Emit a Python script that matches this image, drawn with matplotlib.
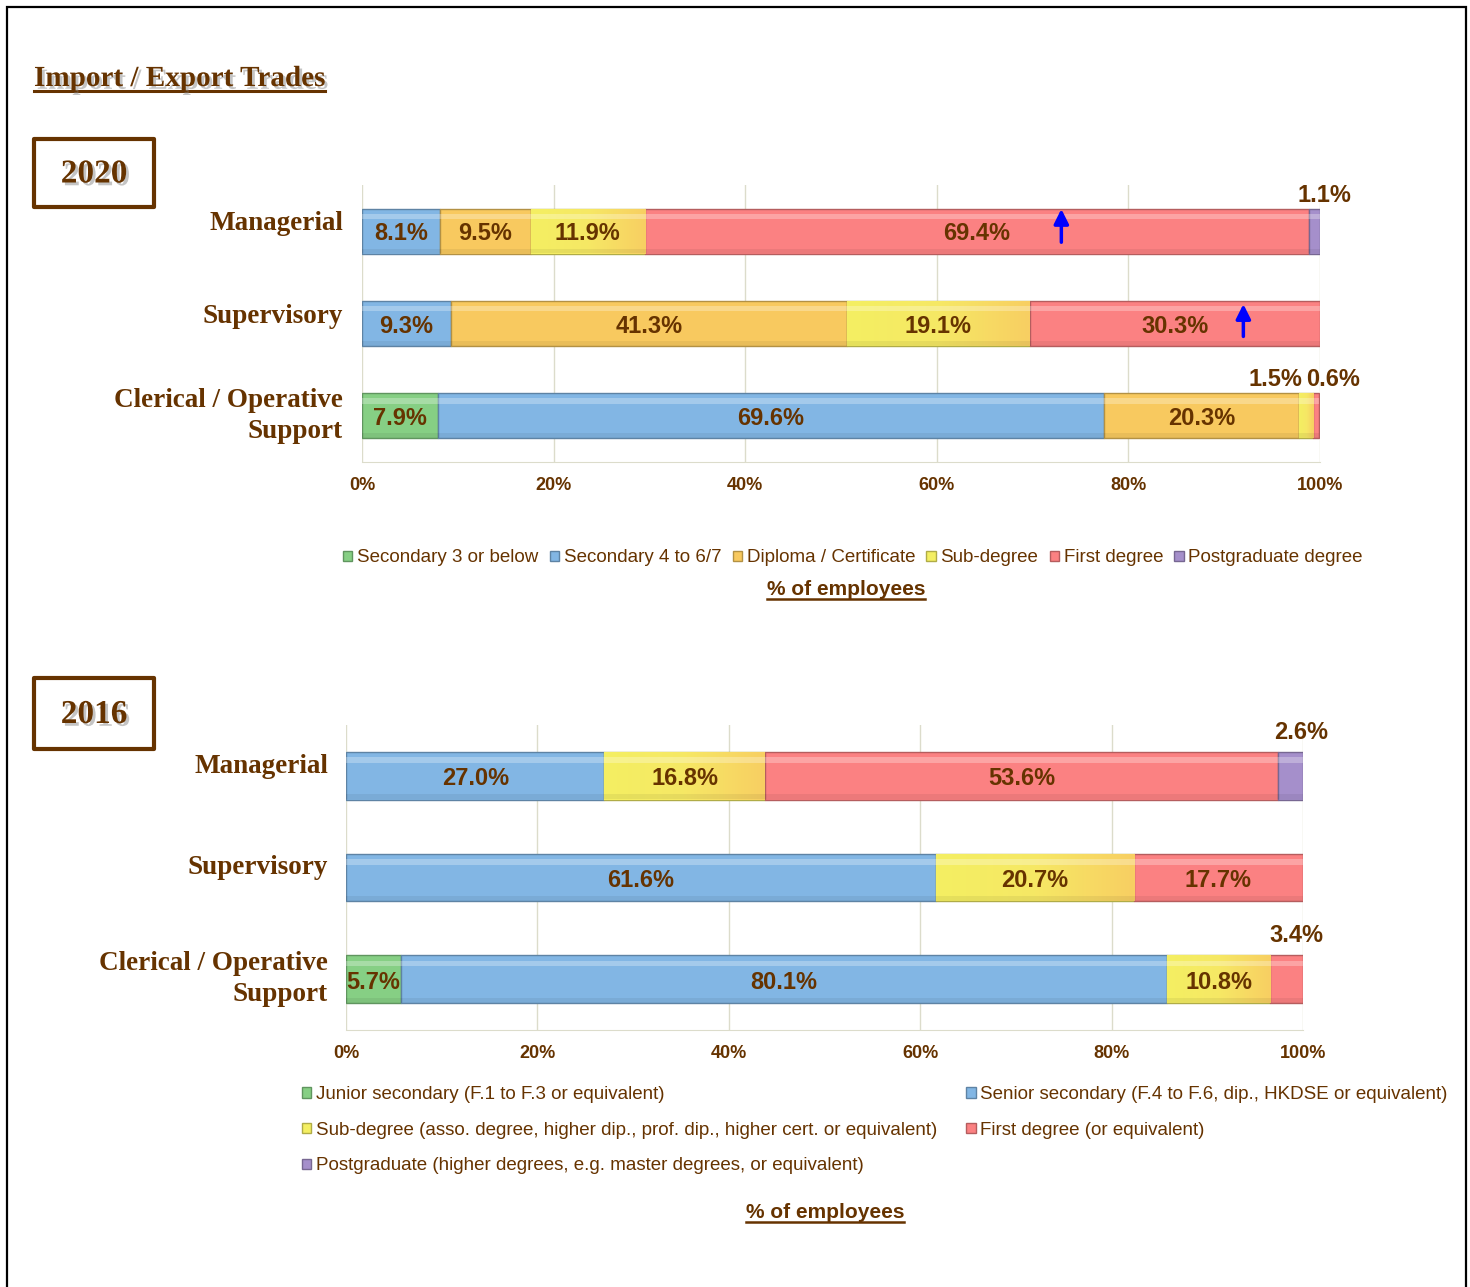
import numpy as np
import matplotlib
matplotlib.use('Agg')
import matplotlib.pyplot as plt
import matplotlib.colors as mcolors
import matplotlib.patheffects as pe
from matplotlib.patches import Rectangle, Patch
from matplotlib.lines import Line2D

# ---- data ----
jobs = ['Managerial', 'Supervisory', 'Clerical / Operative\nSupport']

levels_2020 = ['Secondary 3 or below', 'Secondary 4 to 6/7', 'Diploma / Certificate',
               'Sub-degree', 'First degree', 'Postgraduate degree']
managerial_2020 = [0, 8.1, 9.5, 11.9, 69.4, 1.1]
supervisory_2020 = [0, 9.3, 41.3, 19.1, 30.3, 0]
clerical_2020 = [7.9, 69.6, 20.3, 1.5, 0.6, 0]

levels_2016 = ['Junior secondary (F.1 to F.3 or equivalent)',
               'Senior secondary (F.4 to F.6, dip., HKDSE or equivalent)',
               'Sub-degree (asso. degree, higher dip., prof. dip., higher cert. or equivalent)',
               'First degree (or equivalent)',
               'Postgraduate (higher degrees, e.g. master degrees, or equivalent)']
managerial_2016 = [0, 27.0, 16.8, 53.6, 2.6]
supervisory_2016 = [0, 61.6, 20.7, 17.7, 0]
clerical_2016 = [5.7, 80.1, 10.8, 3.4, 0]

ticks = [0, 20, 40, 60, 80, 100]

# ---- style ----
W, H = 1470, 1287
brown = '#663300'
green = '#86cf84'
blue = '#82b6e4'
gold = '#f8c95f'
yellow = '#f4ef62'
red = '#fb8182'
purple = '#a58fcb'
grid_c = '#dcdccb'
colors_2020 = [green, blue, gold, yellow, red, purple]
colors_2016 = [green, blue, yellow, red, purple]
yellow_grad = mcolors.LinearSegmentedColormap.from_list('yg', [yellow, '#f6e865', '#f8cf62'])

serif = 'Liberation Serif'
sans = 'Liberation Sans'


def darker(c, f=0.72):
    r, g, b = mcolors.to_rgb(c)
    return (r * f, g * f, b * f)


def px2fig_y(y):
    return 1 - y / H


def draw_stack(ax, rows, colors, bar_h, lift, outside):
    rows = np.array(rows, dtype=float)
    y = np.arange(rows.shape[0])
    left = np.zeros(rows.shape[0])
    for k in range(rows.shape[1]):
        vals = rows[:, k]
        m = vals > 0
        bars = ax.barh(y[m], vals[m], left=left[m], height=bar_h, color=colors[k],
                       edgecolor=darker(colors[k]), linewidth=1, zorder=2)
        if colors[k] == yellow:
            # sub-degree bars fade from yellow to gold
            for rect in bars:
                x0, y0 = rect.get_x(), rect.get_y()
                im = ax.imshow(np.linspace(0, 1, 64).reshape(1, -1), cmap=yellow_grad,
                               extent=[x0, x0 + rect.get_width(), y0 + bar_h, y0],
                               aspect='auto', zorder=2.1, interpolation='bilinear')
                im.set_clip_path(rect)
        # light bevel strip on top, shade at bottom
        ax.barh(y[m] - bar_h * 0.33, vals[m], left=left[m], height=bar_h * 0.12,
                color='white', alpha=0.28, linewidth=0, zorder=3)
        ax.barh(y[m] + bar_h * 0.44, vals[m], left=left[m], height=bar_h * 0.1,
                color='black', alpha=0.06, linewidth=0, zorder=3)
        for i, v in enumerate(vals):
            if v <= 0:
                continue
            cx = left[i] + v / 2
            if (i, k) in outside:
                ax.text(cx + outside[(i, k)], i - bar_h / 2 - lift, f'{v:.1f}%',
                        ha='center', va='center', fontsize=17, fontweight='bold',
                        color=brown, family=sans, zorder=5)
            else:
                ax.text(cx, i + 0.03, f'{v:.1f}%', ha='center', va='center',
                        fontsize=17, fontweight='bold', color=brown, family=sans, zorder=5)
        left = left + vals


def style_axes(ax, label_gap, single_dy):
    ax.set_xlim(0, 100)
    ax.set_ylim(2.5, -0.5)
    ax.set_xticks(ticks)
    ax.set_xticklabels([f'{t}%' for t in ticks], fontsize=13, fontweight='bold',
                       color=brown, family=sans)
    ax.tick_params(axis='x', length=0, pad=11)
    ax.set_yticks([])
    tr = ax.get_yaxis_transform()
    for i, job in enumerate(jobs):
        if '\n' in job:
            ax.text(-label_gap, i, job, transform=tr, ha='right', va='center',
                    fontsize=19.5, fontweight='bold', color=brown, family=serif,
                    linespacing=1.3, multialignment='right')
        else:
            ax.text(-label_gap, i + single_dy, job, transform=tr, ha='right', va='baseline',
                    fontsize=19.5, fontweight='bold', color=brown, family=serif)
    ax.grid(axis='x', color=grid_c, lw=1)
    ax.set_axisbelow(True)
    for s in ['top', 'right', 'left']:
        ax.spines[s].set_visible(False)
    ax.spines['bottom'].set_color(grid_c)


fig = plt.figure(figsize=(W / 100, H / 100), dpi=100)

# outer frame
fig.add_artist(Rectangle((7 / W, -0.01), (1466 - 7) / W, (H - 7) / H + 0.01,
                         transform=fig.transFigure, fill=False, edgecolor='black', lw=1.6))

shadow = [pe.withSimplePatchShadow(offset=(2, -2), shadow_rgbFace='#8a8a8a', alpha=0.5)]

title = fig.text(34 / W, px2fig_y(86), 'Import / Export Trades', fontsize=21,
                 fontweight='bold', family=serif, color=brown, va='baseline',
                 path_effects=shadow)

# year boxes
for year, top, bot in [('2020', 139, 207), ('2016', 678, 749)]:
    fig.add_artist(Rectangle((34 / W, px2fig_y(bot)), 120 / W, (bot - top) / H,
                             transform=fig.transFigure, fill=False, edgecolor=brown,
                             lw=3, joinstyle='round'))
    fig.text(94 / W, px2fig_y((top + bot) / 2 + 1), year, fontsize=24, fontweight='bold',
             family=serif, color=brown, ha='center', va='center', path_effects=shadow)

# ---- 2020 chart ----
ax1 = fig.add_axes([362 / W, px2fig_y(462), 958 / W, 277 / H])
rows_2020 = [managerial_2020, supervisory_2020, clerical_2020]
draw_stack(ax1, rows_2020, colors_2020, 0.49, 0.145,
           {(0, 5): 1.0, (2, 3): -3.2, (2, 4): 1.8})
style_axes(ax1, 19 / 958, -0.01)
# rising arrows
ax1.annotate('', xy=(73, -0.27), xytext=(73, 0.15),
             arrowprops=dict(arrowstyle='-|>', color='#0000ff', lw=2.5, mutation_scale=22),
             zorder=6)
ax1.annotate('', xy=(92, 0.76), xytext=(92, 1.17),
             arrowprops=dict(arrowstyle='-|>', color='#0000ff', lw=2.5, mutation_scale=22),
             zorder=6)

h20 = [Patch(facecolor=c, edgecolor=darker(c), label=l) for c, l in zip(colors_2020, levels_2020)]
fig.legend(handles=h20, loc='center', bbox_to_anchor=(853 / W, px2fig_y(558)), ncol=6,
           frameon=False, handlelength=0.5, handleheight=0.5, handletextpad=0.25,
           columnspacing=0.6, borderpad=0, labelcolor=brown,
           prop={'family': sans, 'size': 13.5})

pe1 = fig.text(846 / W, px2fig_y(595), '% of employees', fontsize=15, fontweight='bold',
               family=sans, color=brown, ha='center', va='baseline')

# ---- 2016 chart ----
ax2 = fig.add_axes([346 / W, px2fig_y(1030), 957 / W, 305 / H])
rows_2016 = [managerial_2016, supervisory_2016, clerical_2016]
draw_stack(ax2, rows_2016, colors_2016, 0.47, 0.19,
           {(0, 4): 1.1, (2, 3): 1.0})
style_axes(ax2, 18 / 957, -0.03)

h16 = [Patch(facecolor=c, edgecolor=darker(c), label=l) for c, l in zip(colors_2016, levels_2016)]
order = [0, 2, 4, 1, 3]   # fill row-wise in a 2-column legend
fig.legend(handles=[h16[i] for i in order], loc='upper left',
           bbox_to_anchor=(302 / W, px2fig_y(1086)), ncol=2, frameon=False,
           handlelength=0.5, handleheight=0.5, handletextpad=0.25, columnspacing=1.55,
           labelspacing=1.0, borderpad=0, borderaxespad=0, labelcolor=brown,
           prop={'family': sans, 'size': 13.5})

pe2 = fig.text(825 / W, px2fig_y(1218), '% of employees', fontsize=15, fontweight='bold',
               family=sans, color=brown, ha='center', va='baseline')

# underlines
fig.canvas.draw()
r = fig.canvas.get_renderer()
for t, ypx, lw in [(title, 91, 2.2), (pe1, 599, 1.8), (pe2, 1222, 1.8)]:
    bb = t.get_window_extent(r)
    fig.add_artist(Line2D([bb.x0 / W, bb.x1 / W], [px2fig_y(ypx)] * 2,
                          transform=fig.transFigure, color=brown, lw=lw))

fig.savefig('out.png', dpi=100)
